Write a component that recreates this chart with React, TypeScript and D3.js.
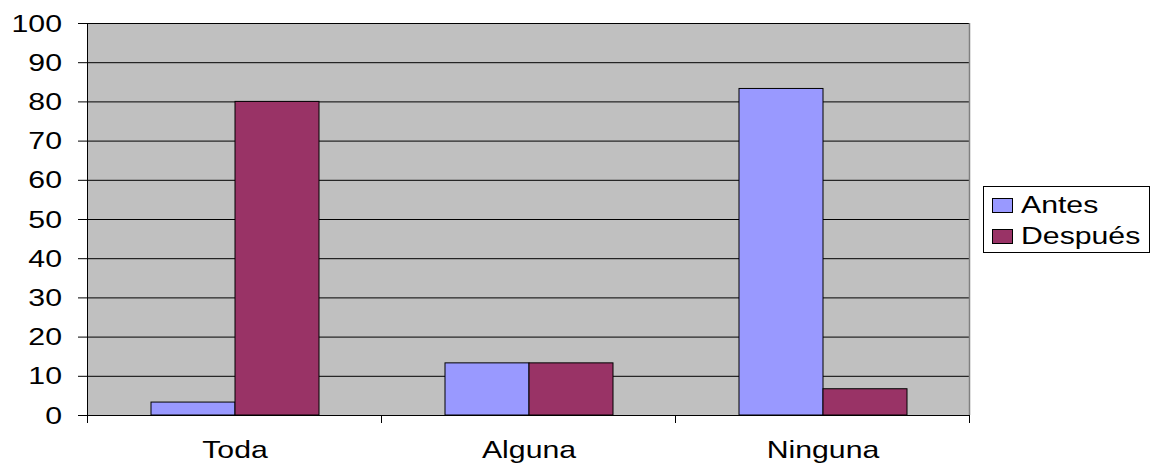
import React from "react";
import * as d3 from "d3";

const categories = ["Toda", "Alguna", "Ninguna"];
const seriesNames = ["Antes", "Después"];
const antes = [3.3, 13.3, 83.3];
const despues = [80, 13.3, 6.7];
const yTicks = [0, 10, 20, 30, 40, 50, 60, 70, 80, 90, 100];
const colors = ["#9999FF", "#993366"];

const W = 1152, H = 464;
const left = 88, right = 970, top = 23, bottom = 415;
const SX = 1.26;
const FS = 24;

function T({ x, y, anchor, children }: { x: number; y: number; anchor: string; children: string }) {
  return (
    <text
      transform={`translate(${x},${y}) scale(${SX},1)`}
      textAnchor={anchor}
      fontFamily="'Liberation Sans', Arial, sans-serif"
      fontSize={FS}
      fill="#000"
    >
      {children}
    </text>
  );
}

export default function App() {
  const y = d3.scaleLinear().domain([0, 100]).range([bottom, top]);
  const x = d3.scaleBand().domain(categories).range([left, right]).paddingInner(0).paddingOuter(0);
  const bw = x.bandwidth();
  const barW = bw * (84 / 294);
  const gap = (bw - 2 * barW) / 2;
  const series = [antes, despues];
  return (
    <svg width={W} height={H} style={{ position: "absolute", left: 0, top: 0 }}>
      <rect x={0} y={0} width={W} height={H} fill="#fff" />
      <rect x={left} y={top} width={right - left} height={bottom - top} fill="#C0C0C0" />
      {yTicks.map((t) => (
        <g key={t}>
          {t > 0 && <line x1={left} x2={right} y1={y(t) + 0.5} y2={y(t) + 0.5} stroke="#000" strokeWidth={1} />}
          <line x1={left - 10} x2={left} y1={y(t) + 0.5} y2={y(t) + 0.5} stroke="#000" strokeWidth={1} />
          <T x={left - 26} y={y(t) + 8.5} anchor="end">{String(t)}</T>
        </g>
      ))}
      <line x1={right - 0.5} x2={right - 0.5} y1={top} y2={bottom} stroke="#808080" strokeWidth={1.5} />
      {series.map((vals, si) =>
        categories.map((c, ci) => (
          <rect
            key={`${si}-${ci}`}
            x={(x(c) as number) + gap + si * barW}
            y={y(vals[ci])}
            width={barW}
            height={bottom - y(vals[ci])}
            fill={colors[si]}
            stroke="#000"
            strokeWidth={1}
          />
        ))
      )}
      <line x1={left - 0.5} x2={left - 0.5} y1={top} y2={bottom + 8} stroke="#000" strokeWidth={1} />
      <line x1={left - 10} x2={right} y1={bottom + 0.5} y2={bottom + 0.5} stroke="#000" strokeWidth={1} />
      {[...categories.map((c) => x(c) as number), right].map((px, i) => (
        <line key={i} x1={px - 0.5} x2={px - 0.5} y1={bottom} y2={bottom + 8} stroke="#000" strokeWidth={1} />
      ))}
      {categories.map((c) => (
        <T key={c} x={(x(c) as number) + bw / 2} y={458} anchor="middle">{c}</T>
      ))}
      <rect x={983.5} y={186.5} width={166} height={66} fill="#fff" stroke="#000" strokeWidth={1} />
      {seriesNames.map((s, i) => (
        <g key={s}>
          <rect x={992.5} y={198.5 + i * 31} width={20} height={14} fill={colors[i]} stroke="#000" strokeWidth={1} />
          <T x={1021} y={213 + i * 31} anchor="start">{s}</T>
        </g>
      ))}
    </svg>
  );
}
